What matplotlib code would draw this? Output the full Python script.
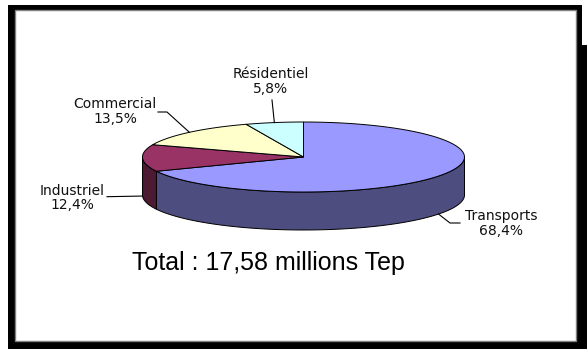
import numpy as np
import matplotlib
matplotlib.use('Agg')
import matplotlib.pyplot as plt
from matplotlib.patches import Polygon, Rectangle

# Consommation d'énergie par secteur (%)
secteurs = ['Transports', 'Industriel', 'Commercial', 'Résidentiel']
parts = [68.4, 12.4, 13.5, 5.8]
total_mtep = 17.58

couleurs_dessus = ['#9999FF', '#993366', '#FFFFCC', '#CCFFFF']
couleurs_cote = ['#4D4D80', '#4D1A33', '#80806A', '#668080']

# Géométrie du camembert 3D (en pixels)
CX, CY = 303.5, 157.0
RX, RY = 161.0, 35.0
EPAISSEUR = 38.0

# position des étiquettes : centre du texte, coude de la ligne de rappel, fin
etiq_xy = [(501, 223.5), (72, 198), (115, 111.5), (271, 81.5)]
coude_xy = [(450, 223), (107, 196.7), (167, 112), (272, 100)]
fin_xy = [(460, 223), (107, 196.7), (158, 112), (272, 100)]


def pt(theta, dz=0.0):
    t = np.radians(theta)
    return CX + RX * np.cos(t), CY - RY * np.sin(t) + dz


def arc(t0, t1, dz=0.0):
    th = np.linspace(t0, t1, 80)
    x, y = pt(th, dz)
    return np.column_stack([x, y])


def partie_avant(t0, t1):
    # morceaux de l'arc situés sur la moitié avant (sin <= 0)
    res = []
    for k in (-1, 0, 1):
        lo = max(t0, -180 + 360 * k)
        hi = min(t1, 360 * k)
        if hi > lo:
            res.append((lo, hi))
    return res


fig = plt.figure(figsize=(5.87, 3.49), dpi=100)
ax = fig.add_axes([0, 0, 1, 1])
ax.set_xlim(0, 587)
ax.set_ylim(349, 0)
ax.axis('off')

# cadre noir avec ombre
ax.add_patch(Rectangle((8, 5), 574, 344, fc='black', ec='none', zorder=0))
ax.add_patch(Rectangle((576, 45), 11, 304, fc='black', ec='none', zorder=0))
ax.add_patch(Rectangle((15, 10), 561, 331, fc='white', ec='#808080', lw=1, zorder=1))

# angles : départ à midi, sens horaire
cum = np.concatenate([[0], np.cumsum(parts)]) / sum(parts) * 360
angles = [(90 - cum[i + 1], 90 - cum[i]) for i in range(len(parts))]

# faces latérales
for (t0, t1), c in zip(angles, couleurs_cote):
    for lo, hi in partie_avant(t0, t1):
        haut = arc(lo, hi)
        bas = arc(hi, lo, EPAISSEUR)
        ax.add_patch(Polygon(np.vstack([haut, bas]), closed=True, fc=c,
                             ec='black', lw=0.7, zorder=2))

# faces supérieures
for (t0, t1), c in zip(angles, couleurs_dessus):
    pts = np.vstack([[CX, CY], arc(t0, t1)])
    ax.add_patch(Polygon(pts, closed=True, fc=c, ec='black', lw=0.7, zorder=3))

# étiquettes et lignes de rappel
for i, (nom, v) in enumerate(zip(secteurs, parts)):
    t0, t1 = angles[i]
    tm = (t0 + t1) / 2
    dz = EPAISSEUR if np.sin(np.radians(tm)) < 0 else 0.0
    x0, y0 = pt(tm, dz)
    xs = [x0, coude_xy[i][0], fin_xy[i][0]]
    ys = [y0, coude_xy[i][1], fin_xy[i][1]]
    ax.plot(xs, ys, color='black', lw=0.8, zorder=4)
    txt = f"{nom}\n{v:.1f}%".replace('.', ',')
    ax.text(etiq_xy[i][0], etiq_xy[i][1], txt, ha='center', va='center',
            fontsize=10, family='DejaVu Sans', color='#111111',
            linespacing=1.05, zorder=5)

ax.text(268.5, 270, f"Total : {total_mtep:.2f} millions Tep".replace('.', ','),
        ha='center', va='baseline', fontsize=18, family='Liberation Sans',
        color='black', zorder=5)

fig.savefig('out.png', dpi=100)
